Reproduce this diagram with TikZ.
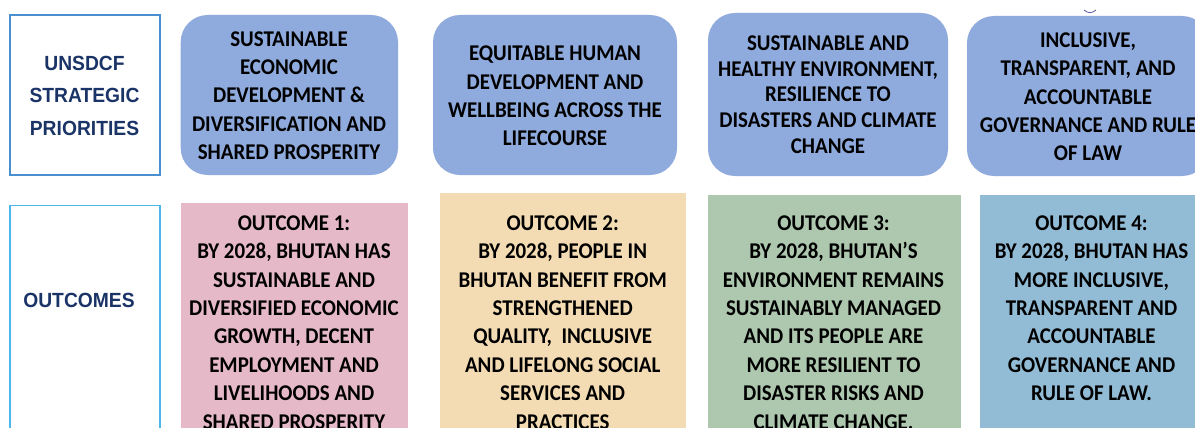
\documentclass[tikz,border=0pt]{standalone}
\usepackage{fontspec}
\setmainfont{Carlito}[FakeStretch=0.93]
\newfontfamily\labelfont[FakeStretch=0.94]{Liberation Sans Bold}
\definecolor{prio}{HTML}{8FAADC}
\definecolor{pinkc}{HTML}{E5B9C7}
\definecolor{tanc}{HTML}{F3DCB3}
\definecolor{greenc}{HTML}{ADC8AE}
\definecolor{steelc}{HTML}{92BCD6}
\definecolor{navy}{HTML}{1B3468}
\definecolor{frameA}{HTML}{4A90D0}
\definecolor{frameB}{HTML}{4DB6EA}
\begin{document}
\begin{tikzpicture}[x=1pt,y=-1pt,
  prbox/.style={fill=prio,draw=none,rounded corners=27pt},
  maintext/.style={align=center,inner sep=0pt,font=\bfseries\fontsize{22.5}{28.4}\selectfont},
  lbltext/.style={align=center,inner sep=0pt,text=navy,font=\labelfont\fontsize{20.5}{32.5}\selectfont},
  lblframe/.style={line width=1.3pt,fill=white}]
\useasboundingbox (0,0) rectangle (1195,428);
\clip (0,0) rectangle (1195,428);
\fill[white] (0,0) rectangle (1195,428);
% left labels
\draw[lblframe,draw=frameA] (10,15) rectangle (160,175);
\node[lbltext] (lp) at (84.5,95.5) {UNSDCF\\STRATEGIC\\PRIORITIES};
\draw[lblframe,draw=frameB] (10,205.7) rectangle (160,440);
\node[lbltext] (lo) at (79,300) {OUTCOMES};
% priorities
\fill[prbox] (180.7,15) rectangle (398,175);
\node[maintext] (p1) at (289,95.5) {SUSTAINABLE\\ECONOMIC\\DEVELOPMENT \&\\DIVERSIFICATION AND\\SHARED PROSPERITY};
\fill[prbox] (433,15) rectangle (677,175);
\node[maintext] (p2) at (555,96) {EQUITABLE HUMAN\\DEVELOPMENT AND\\WELLBEING ACROSS THE\\LIFECOURSE};
\fill[prbox] (708,13) rectangle (948,176);
\node[maintext,font=\bfseries\fontsize{22.5}{25.6}\selectfont] (p3) at (828,94.5) {SUSTAINABLE AND\\HEALTHY ENVIRONMENT,\\RESILIENCE TO\\DISASTERS AND CLIMATE\\CHANGE};
\fill[prbox] (967,16) rectangle (1209,176);
\node[maintext] (p4) at (1088,96.7) {INCLUSIVE,\\TRANSPARENT, AND\\ACCOUNTABLE\\GOVERNANCE AND RULE\\OF LAW};
\draw[gray!70!blue,line width=0.8pt] (1084,10) .. controls (1088,13.5) and (1092,13.5) .. (1096,10);
% outcomes
\fill[pinkc] (180.7,202.7) rectangle (408,440);
\node[maintext] (o1) at (294,322.4) {OUTCOME 1:\\BY 2028, BHUTAN HAS\\SUSTAINABLE AND\\DIVERSIFIED ECONOMIC\\GROWTH, DECENT\\EMPLOYMENT AND\\LIVELIHOODS AND\\SHARED PROSPERITY};
\fill[tanc] (440,192.7) rectangle (686,440);
\node[maintext] (o2) at (562.7,322.4) {OUTCOME 2:\\BY 2028, PEOPLE IN\\BHUTAN BENEFIT FROM\\STRENGTHENED\\QUALITY,\ \ INCLUSIVE\\AND LIFELONG SOCIAL\\SERVICES AND\\PRACTICES};
\fill[greenc] (707.7,195) rectangle (960.7,440);
\node[maintext] (o3) at (833.5,322.4) {OUTCOME 3:\\BY 2028, BHUTAN’S\\ENVIRONMENT REMAINS\\SUSTAINABLY MANAGED\\AND ITS PEOPLE ARE\\MORE RESILIENT TO\\DISASTER RISKS AND\\CLIMATE CHANGE.};
\fill[steelc] (980,195) rectangle (1220,440);
\node[maintext] (o4) at (1091.5,308.3) {OUTCOME 4:\\BY 2028, BHUTAN HAS\\MORE INCLUSIVE,\\TRANSPARENT AND\\ACCOUNTABLE\\GOVERNANCE AND\\RULE OF LAW.};
\end{tikzpicture}
\end{document}
